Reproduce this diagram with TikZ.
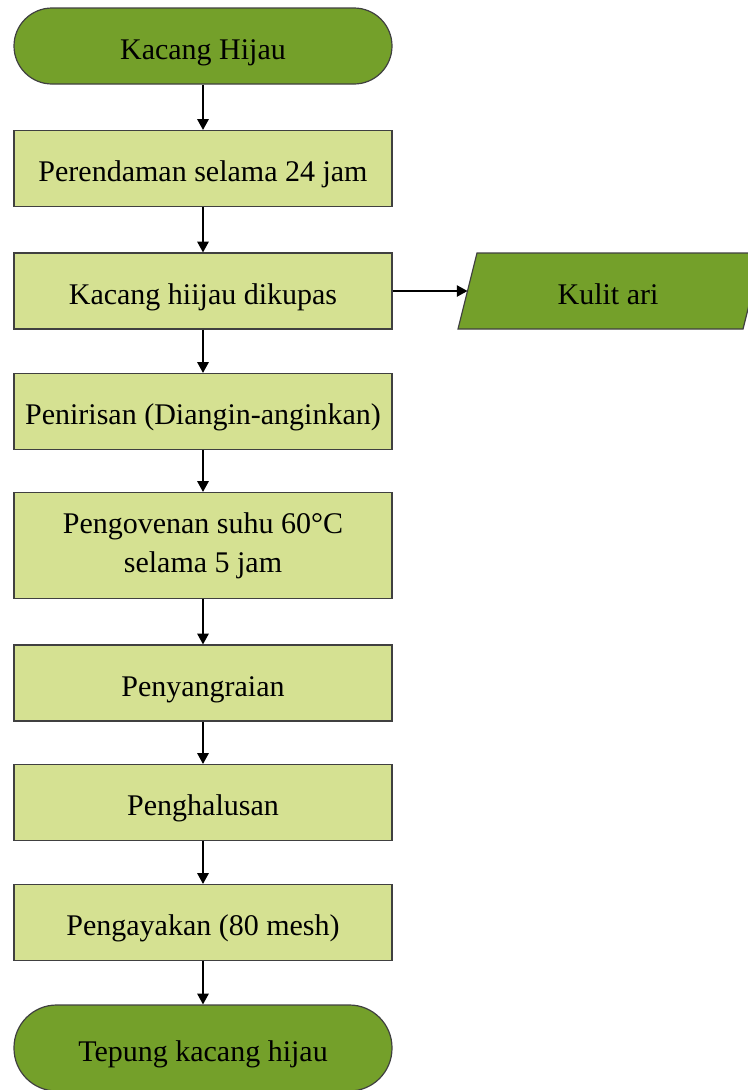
\documentclass[tikz,border=0pt]{standalone}
\usepackage{fontspec}
\setmainfont{Liberation Serif}
\usetikzlibrary{arrows.meta}

\definecolor{termgreen}{RGB}{116,160,42}
\definecolor{boxgreen}{RGB}{213,225,146}
\definecolor{edgegray}{RGB}{64,64,64}

\tikzset{every picture/.style={line width=0.75pt}}
\tikzset{
  terminal/.style={draw=edgegray, line width=0.9pt, fill=termgreen, rounded corners=28.5pt, minimum width=283.5pt, minimum height=57pt, inner sep=0.75pt, align=center, text height=20pt, text depth=0pt, font=\fontsize{22.5}{27}\selectfont},
  prosesbox/.style={draw=edgegray, line width=0.9pt, fill=boxgreen, minimum width=283.5pt, minimum height=57pt, inner sep=0.75pt, align=center, text height=20pt, text depth=0pt, font=\fontsize{22.5}{27}\selectfont},
  alur/.style={-{Triangle[length=8pt,width=8.5pt]}, color=black, line width=1.1pt}
}

\begin{document}
\begin{tikzpicture}[x=0.75pt,y=0.75pt,yscale=-1,xscale=1]
    \useasboundingbox (0,0) rectangle (748,1090);

    %Shape: Terminator (start)
    \draw (203,46) node [terminal] (mulai) {Kacang Hijau};
    %Shape: Rectangle
    \draw (203,168.5) node [prosesbox] (rendam) {Perendaman selama 24 jam};
    %Shape: Rectangle
    \draw (203,291) node [prosesbox] (kupas) {Kacang hiijau dikupas};
    %Shape: Rectangle
    \draw (203,411.5) node [prosesbox] (tiris) {Penirisan (Diangin-anginkan)};
    %Shape: Rectangle
    \draw (203,545.5) node [prosesbox, minimum height=79.5pt, text height=, text depth=, font=\fontsize{22.5}{29}\selectfont] (oven) {Pengovenan suhu 60°C\\selama 5 jam};
    %Shape: Rectangle
    \draw (203,683) node [prosesbox] (sangrai) {Penyangraian};
    %Shape: Rectangle
    \draw (203,802.5) node [prosesbox] (halus) {Penghalusan};
    %Shape: Rectangle
    \draw (203,922.5) node [prosesbox] (ayak) {Pengayakan (80 mesh)};
    %Shape: Terminator (end)
    \draw (203,1048) node [terminal, minimum height=64.5pt, rounded corners=32pt] (selesai) {Tepung kacang hijau};

    %Shape: Parallelogram
    \draw [draw=edgegray, line width=0.9pt, fill=termgreen] (477,253) -- (762,253) -- (743,329) -- (458,329) -- cycle ;
    \coordinate (kulitL) at (467.5,291);
    % Text Node
    \draw (608,291) node [inner sep=0.75pt, text height=20pt, text depth=0pt, font=\fontsize{22.5}{27}\selectfont] (kulit) {Kulit ari};

    %Straight Lines
    \draw [alur] (mulai) -- (rendam);
    \draw [alur] (rendam) -- (kupas);
    \draw [alur] (kupas) -- (tiris);
    \draw [alur] (tiris) -- (oven);
    \draw [alur] (oven) -- (sangrai);
    \draw [alur] (sangrai) -- (halus);
    \draw [alur] (halus) -- (ayak);
    \draw [alur] (ayak) -- (selesai);
    \draw [alur] (kupas) -- (kulitL);

\end{tikzpicture}
\end{document}
